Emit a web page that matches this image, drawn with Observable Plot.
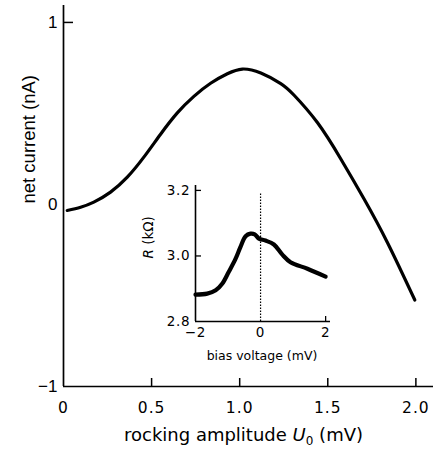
<!DOCTYPE html>
<html><head><meta charset="utf-8">
<script src="https://cdn.jsdelivr.net/npm/d3@7"></script>
<script src="https://cdn.jsdelivr.net/npm/@observablehq/plot@0.6"></script>
<style>
html,body{margin:0;padding:0;background:#fff;}
#wrap{position:relative;width:443px;height:450px;overflow:hidden;}
#inset{position:absolute;left:135px;top:180px;}
</style></head><body><div id="wrap"><div id="main"></div><div id="inset"></div></div>
<script>
// Main chart: net current vs rocking amplitude
const rockingAmplitude = [0.021, 0.097, 0.172, 0.267, 0.362, 0.456, 0.551, 0.646, 0.740, 0.835, 0.930, 1.015, 1.120, 1.233, 1.309, 1.441, 1.574, 1.706, 1.839, 1.994];
const netCurrent       = [-0.033, -0.015, 0.013, 0.068, 0.150, 0.260, 0.386, 0.503, 0.594, 0.666, 0.718, 0.744, 0.722, 0.664, 0.600, 0.450, 0.250, 0.030, -0.210, -0.525];
const xTickValues = [0, 0.5, 1.0, 1.5, 2.0];
const xTickMarks = [0.5, 1.0, 1.5, 2.0];
const yTickValues = [-1, 0, 1];
const yTickMarks = [1];
const xDomain = [0, 2.1];
const yDomain = [-1, 1.093];
const xTitle = "rocking amplitude U0 (mV)";
const yTitle = "net current (nA)";

// Inset: resistance vs bias voltage
const biasVoltage = [-2.0, -1.64, -1.38, -1.18, -0.98, -0.77, -0.62, -0.46, -0.31, -0.18, -0.05, 0.15, 0.41, 0.67, 0.92, 1.44, 2.0];
const resistance  = [2.882, 2.885, 2.895, 2.915, 2.951, 2.991, 3.027, 3.060, 3.068, 3.066, 3.053, 3.047, 3.035, 3.004, 2.981, 2.961, 2.937];
const insetXTickValues = [-2, 0, 2];
const insetXTickMarks = [2];
const insetYTickValues = [2.8, 3.0, 3.2];
const insetYTickMarks = [3.0, 3.2];
const insetXDomain = [-2, 2.15];
const insetYDomain = [2.8, 3.215];
const zeroBias = [0];
const zeroBiasTop = 3.19;
const insetXTitle = "bias voltage (mV)";
const insetYTitle = "R (kΩ)";

const mainData = rockingAmplitude.map((x, i) => ({x, y: netCurrent[i]}));
const insetData = biasVoltage.map((x, i) => ({x, y: resistance[i]}));

const sans = "'Liberation Sans', Arial, sans-serif";
const wide = "'DejaVu Sans', sans-serif";

const main = Plot.plot({
  width: 443, height: 450,
  marginLeft: 63, marginRight: 10, marginTop: 5, marginBottom: 64,
  style: {background: "white", color: "black", fontFamily: wide, overflow: "visible"},
  x: {domain: xDomain},
  y: {domain: yDomain},
  marks: [
    Plot.axisY(yTickValues, {tickSize: 0, tickPadding: 6, tickFormat: d3.format("d"), fontSize: 17, fontFamily: sans, label: null}),
    Plot.axisY(yTickMarks, {tickSize: -10, tickFormat: () => "", label: null, strokeWidth: 1.5}),
    Plot.axisX(xTickValues, {tickSize: 0, tickPadding: 15, tickFormat: d => d === 0 ? "0" : d3.format(".1f")(d), fontSize: 15.5, fontFamily: wide, label: null}),
    Plot.axisX(xTickMarks, {tickSize: -8, tickFormat: () => "", label: null, strokeWidth: 1.5}),
    Plot.ruleX([xDomain[0]], {strokeWidth: 1.7}),
    Plot.ruleY([yDomain[0]], {strokeWidth: 1.7}),
    Plot.line(mainData, {x: "x", y: "y", strokeWidth: 3.2, curve: "natural"}),
    Plot.text([xTitle], {frameAnchor: "bottom", dy: 49, dx: -5, lineAnchor: "middle", fontSize: 18, fontFamily: wide}),
    Plot.text([yTitle], {frameAnchor: "left", rotate: -90, dx: -34.5, dy: 7.5, lineAnchor: "middle", fontSize: 18.5, fontFamily: sans})
  ]
});
document.getElementById("main").appendChild(main);

const inset = Plot.plot({
  width: 205, height: 185,
  marginLeft: 60, marginRight: 10, marginTop: 5, marginBottom: 44,
  style: {background: "transparent", color: "black", fontFamily: wide, overflow: "visible"},
  x: {domain: insetXDomain},
  y: {domain: insetYDomain},
  marks: [
    Plot.axisY(insetYTickValues, {tickSize: 0, tickPadding: 5, tickFormat: d3.format(".1f"), fontSize: 13.5, label: null}),
    Plot.axisY(insetYTickMarks, {tickSize: -6, tickFormat: () => "", label: null, strokeWidth: 1.3}),
    Plot.axisX(insetXTickValues, {tickSize: 0, tickPadding: 6, tickFormat: d3.format("d"), fontSize: 13.5, label: null}),
    Plot.axisX(insetXTickMarks, {tickSize: -5, tickFormat: () => "", label: null, strokeWidth: 1.3}),
    Plot.ruleX([insetXDomain[0]], {strokeWidth: 1.6}),
    Plot.ruleY([insetYDomain[0]], {strokeWidth: 1.6}),
    Plot.ruleX(zeroBias, {y1: insetYDomain[0], y2: zeroBiasTop, strokeWidth: 1.2, strokeDasharray: "1.5,1.5"}),
    Plot.line(insetData, {x: "x", y: "y", strokeWidth: 4.2, curve: "catmull-rom"}),
    Plot.text([insetXTitle], {frameAnchor: "bottom", dy: 34, dx: -1, lineAnchor: "middle", fontSize: 12.5}),
    Plot.text([insetYTitle], {frameAnchor: "left", rotate: -90, dx: -47, dy: 5, lineAnchor: "middle", fontSize: 13.5})
  ]
});
document.getElementById("inset").appendChild(inset);

// letter spacing on wide tick labels
d3.select(main).selectAll("g[aria-label='x-axis tick label'] text").style("letter-spacing", "1px");
d3.select(inset).selectAll("g[aria-label='y-axis tick label'] text, g[aria-label='x-axis tick label'] text").style("letter-spacing", "0.8px");

// Italic U with subscript 0 in the x title
d3.select(main).selectAll("text").filter(function() { return this.textContent === xTitle; }).each(function() {
  const t = d3.select(this);
  t.text(null);
  t.append("tspan").text("rocking amplitude ");
  t.append("tspan").attr("font-style", "italic").text("U");
  t.append("tspan").attr("font-size", "12px").attr("dy", "4").text("0");
  t.append("tspan").attr("dy", "-4").text(" (mV)");
});
// Italic R in inset y title
d3.select(inset).selectAll("text").filter(function() { return this.textContent === insetYTitle; }).each(function() {
  const t = d3.select(this);
  t.text(null);
  t.append("tspan").attr("font-style", "italic").text("R");
  t.append("tspan").text(" (kΩ)");
});
</script>
</body></html>
